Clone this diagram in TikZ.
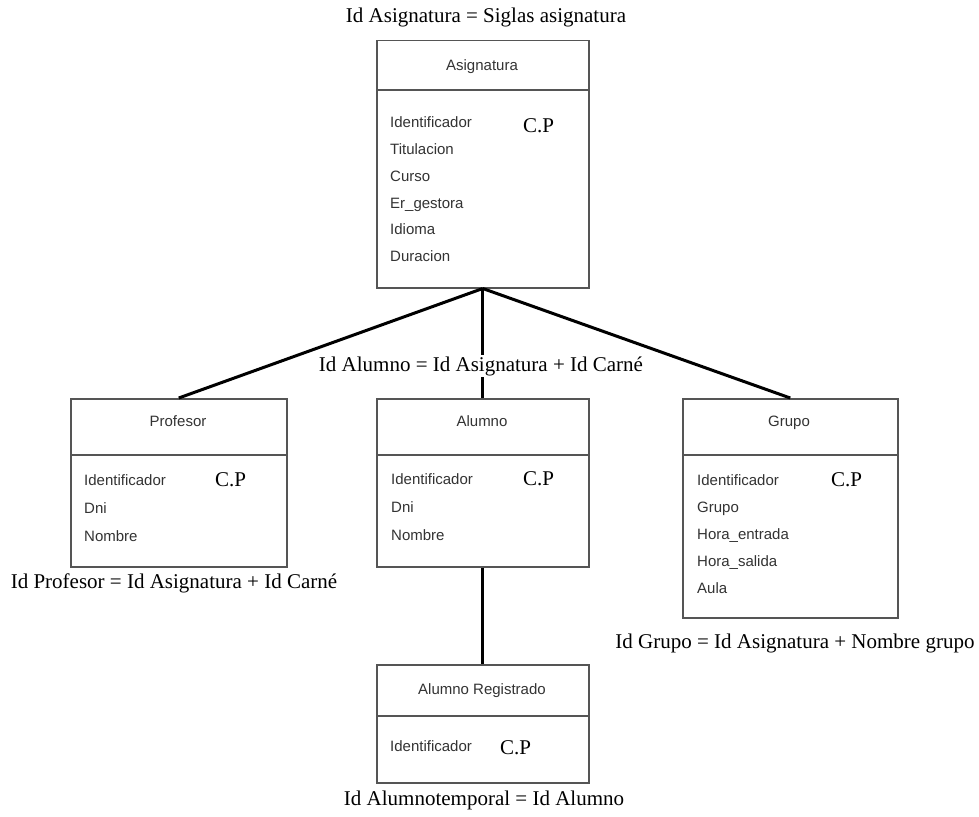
\documentclass[tikz,border=0pt]{standalone}
\usepackage{fontspec}
\setmainfont{Liberation Serif}
\setsansfont{Liberation Sans}
\usetikzlibrary{calc}
\definecolor{boxgrey}{HTML}{555555}
\definecolor{txtgrey}{HTML}{333333}
\begin{document}
\begin{tikzpicture}[x=1pt,y=-1pt,
  entbox/.style={draw=boxgrey, line width=1.5pt, fill=white, anchor=north west,
    inner sep=0pt, minimum width=212pt},
  divider/.style={draw=boxgrey, line width=1.5pt},
  head/.style={font=\sffamily\fontsize{15}{17}\selectfont, text=txtgrey, inner sep=0pt,
    text height=11pt, text depth=0pt},
  attr/.style={font=\sffamily\fontsize{15}{17}\selectfont, text=txtgrey, anchor=west, inner sep=0pt,
    text height=11pt, text depth=0pt},
  pk/.style={font=\fontsize{21}{23}\selectfont, text=black, anchor=west, inner sep=0pt},
  note/.style={font=\fontsize{21}{23}\selectfont, text=black, inner sep=1pt},
  link/.style={line width=3pt, black}]

\useasboundingbox (0,0) rectangle (979,816);

% entity boxes
\node[entbox, minimum height=247pt] (asig) at (376,40) {};
\node[entbox, minimum width=216pt, minimum height=168pt] (prof) at (70,398) {};
\node[entbox, minimum height=168pt] (alum) at (376,398) {};
\node[entbox, minimum width=215pt, minimum height=219pt] (grupo) at (682,398) {};
\node[entbox, minimum height=118pt] (areg) at (376,664) {};

% header separators
\draw[divider] ($(asig.north west)+(0,50)$) -- ($(asig.north east)+(0,50)$);
\draw[divider] ($(prof.north west)+(0,57)$) -- ($(prof.north east)+(0,57)$);
\draw[divider] ($(alum.north west)+(0,57)$) -- ($(alum.north east)+(0,57)$);
\draw[divider] ($(grupo.north west)+(0,57)$) -- ($(grupo.north east)+(0,57)$);
\draw[divider] ($(areg.north west)+(0,52)$) -- ($(areg.north east)+(0,52)$);

% Asignatura
\node[head] (asigh) at (482,65) {Asignatura};
\node[attr] (a1) at (390,122) {Identificador};
\node[attr] (a2) at (390,149) {Titulacion};
\node[attr] (a3) at (390,176) {Curso};
\node[attr] (a4) at (390,203) {Er\_gestora};
\node[attr] (a5) at (390,229) {Idioma};
\node[attr] (a6) at (390,256) {Duracion};
\node[pk] (apk) at (523,126) {C.P};

% Profesor
\node[head] (profh) at (178,421) {Profesor};
\node[attr] (p1) at (84,480) {Identificador};
\node[attr] (p2) at (84,508) {Dni};
\node[attr] (p3) at (84,536) {Nombre};
\node[pk] (ppk) at (215,480) {C.P};

% Alumno
\node[head] (alumh) at (482,421) {Alumno};
\node[attr] (l1) at (391,479) {Identificador};
\node[attr] (l2) at (391,507) {Dni};
\node[attr] (l3) at (391,535) {Nombre};
\node[pk] (lpk) at (523,479) {C.P};

% Grupo
\node[head] (grupoh) at (789,421) {Grupo};
\node[attr] (g1) at (697,480) {Identificador};
\node[attr] (g2) at (697,507) {Grupo};
\node[attr] (g3) at (697,534) {Hora\_entrada};
\node[attr] (g4) at (697,561) {Hora\_salida};
\node[attr] (g5) at (697,588) {Aula};
\node[pk] (gpk) at (831,480) {C.P};

% Alumno Registrado
\node[head] (aregh) at (482,689) {Alumno Registrado};
\node[attr] (r1) at (390,746) {Identificador};
\node[pk] (rpk) at (500,748) {C.P};

% relationships
\draw[link] (asig.south) -- (prof.north);
\draw[link] (asig.south) -- (alum.north);
\draw[link] (asig.south) -- (grupo.north);
\draw[link] (alum.south) -- (areg.north);

% key definitions
\node[note] (n1) at (486,17) {Id Asignatura = Siglas asignatura};
\node[note, fill=white] (n2) at (481,366) {Id Alumno = Id Asignatura + Id Carné};
\node[note] (n3) at (174,583) {Id Profesor = Id Asignatura + Id Carné};
\node[note] (n4) at (795,643) {Id Grupo = Id Asignatura + Nombre grupo};
\node[note] (n5) at (484,800) {Id Alumnotemporal = Id Alumno};
\end{tikzpicture}
\end{document}
